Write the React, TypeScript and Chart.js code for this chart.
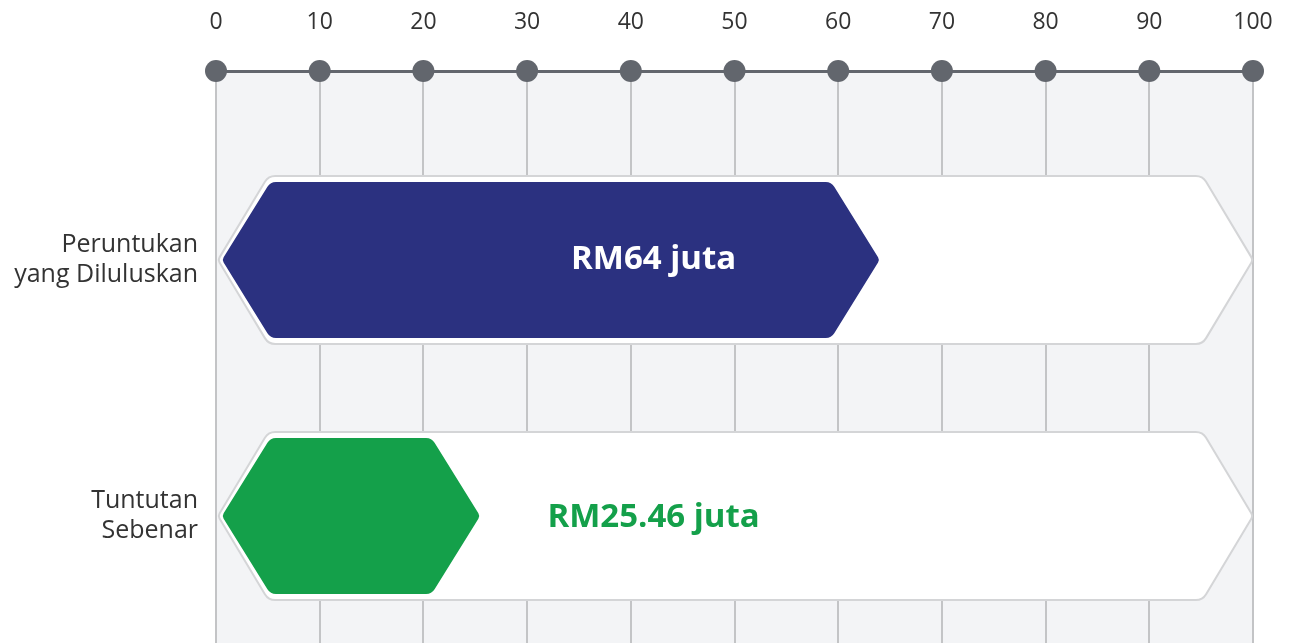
import React, { useEffect, useRef } from "react";
import { Chart, registerables } from "chart.js";

Chart.register(...registerables);

// ---- data ----
const CATEGORIES: string[][] = [
  ["Peruntukan", "yang Diluluskan"],
  ["Tuntutan", "Sebenar"],
];
const VALUES: number[] = [64, 25.46];
const VALUE_LABELS: string[] = ["RM64 juta", "RM25.46 juta"];
const TRACK_MAX: number[] = [100, 100];
const BAR_COLORS: string[] = ["#2b3180", "#14a04a"];
const X_TICKS: number[] = [0, 10, 20, 30, 40, 50, 60, 70, 80, 90, 100];

// ---- style constants ----
const FONT = "'Open Sans', 'DejaVu Sans', sans-serif";
const LABEL_AT = 42.2; // axis value where value labels are centred
const TEXT_COLOR = "#333333";

function hexPath(
  ctx: CanvasRenderingContext2D,
  x0: number,
  x1: number,
  yc: number,
  h: number,
  c: number,
  r: number,
  rp: number
) {
  const top = yc - h / 2;
  const bot = yc + h / 2;
  const pts: [number, number, number][] = [
    [x0, yc, rp],
    [x0 + c, top, r],
    [x1 - c, top, r],
    [x1, yc, rp],
    [x1 - c, bot, r],
    [x0 + c, bot, r],
  ];
  ctx.beginPath();
  const sx = (pts[5][0] + pts[0][0]) / 2;
  const sy = (pts[5][1] + pts[0][1]) / 2;
  ctx.moveTo(sx, sy);
  for (let i = 0; i < 6; i++) {
    const p = pts[i];
    const n = pts[(i + 1) % 6];
    ctx.arcTo(p[0], p[1], n[0], n[1], p[2]);
  }
  ctx.closePath();
}

const hexPlugin = {
  id: "hexBars",
  beforeDraw(chart: any) {
    const { ctx, chartArea } = chart;
    ctx.save();
    ctx.fillStyle = "#ffffff";
    ctx.fillRect(0, 0, chart.width, chart.height);
    ctx.fillStyle = "#f3f4f6";
    ctx.fillRect(
      chartArea.left,
      chartArea.top,
      chartArea.right - chartArea.left,
      chartArea.bottom - chartArea.top
    );
    ctx.restore();
  },
  afterDatasetsDraw(chart: any) {
    const { ctx } = chart;
    const trackMeta = chart.getDatasetMeta(0);
    const barMeta = chart.getDatasetMeta(1);
    const xScale = chart.scales.x;
    ctx.save();
    trackMeta.data.forEach((el: any) => {
      const p = el.getProps(["x", "y", "base", "height"], true);
      const x0 = Math.min(p.x, p.base) + 1;
      const x1 = Math.max(p.x, p.base);
      hexPath(ctx, x0, x1, p.y, p.height, p.height * 0.3, 12, 5);
      ctx.fillStyle = "#ffffff";
      ctx.fill();
      ctx.lineWidth = 2;
      ctx.strokeStyle = "#d4d5d7";
      ctx.stroke();
    });
    barMeta.data.forEach((el: any, i: number) => {
      const p = el.getProps(["x", "y", "base", "height"], true);
      const x0 = Math.min(p.x, p.base) + 5;
      const x1 = Math.max(p.x, p.base);
      hexPath(ctx, x0, x1, p.y, p.height, p.height * 0.31, 10, 5);
      ctx.fillStyle = BAR_COLORS[i];
      ctx.fill();
    });
    // value labels
    ctx.font = `bold 33px ${FONT}`;
    ctx.textAlign = "center";
    ctx.textBaseline = "middle";
    barMeta.data.forEach((el: any, i: number) => {
      const p = el.getProps(["y"], true);
      const inside = LABEL_AT < VALUES[i];
      ctx.fillStyle = inside ? "#ffffff" : BAR_COLORS[i];
      ctx.fillText(VALUE_LABELS[i], xScale.getPixelForValue(LABEL_AT), p.y + (inside ? 0 : 2));
    });
    ctx.restore();
  },
  afterDraw(chart: any) {
    const { ctx, chartArea } = chart;
    const xScale = chart.scales.x;
    ctx.save();
    ctx.fillStyle = "#62666d";
    X_TICKS.forEach((v) => {
      ctx.beginPath();
      ctx.arc(xScale.getPixelForValue(v), chartArea.top, 11, 0, Math.PI * 2);
      ctx.fill();
    });
    ctx.restore();
  },
};

export default function App() {
  const canvasRef = useRef<HTMLCanvasElement | null>(null);

  useEffect(() => {
    document.body.style.margin = "0";
    const canvas = canvasRef.current;
    if (!canvas) return;
    const chart = new Chart(canvas, {
      type: "bar",
      data: {
        datasets: [
          {
            label: "track",
            data: TRACK_MAX.map((v, i) => ({ x: v, y: i })),
            backgroundColor: "rgba(0,0,0,0)",
            borderWidth: 0,
            barThickness: 168,
            grouped: false,
          } as any,
          {
            label: "value",
            data: VALUES.map((v, i) => ({ x: v, y: i })),
            backgroundColor: "rgba(0,0,0,0)",
            borderWidth: 0,
            barThickness: 156,
            grouped: false,
          } as any,
        ],
      },
      options: {
        indexAxis: "y",
        animation: false,
        responsive: true,
        maintainAspectRatio: false,
        layout: { padding: { top: 8, right: 40, bottom: 0, left: 0 } },
        plugins: {
          legend: { display: false },
          tooltip: { enabled: false },
        },
        scales: {
          x: {
            type: "linear",
            position: "top",
            min: 0,
            max: 100,
            offset: false,
            afterBuildTicks: (scale: any) => {
              scale.ticks = X_TICKS.map((v) => ({ value: v }));
            },
            afterFit: (scale: any) => {
              scale.height = 63;
              scale.paddingLeft = 0;
              scale.paddingRight = 0;
            },
            ticks: {
              color: TEXT_COLOR,
              font: { family: FONT, size: 23 },
              padding: 35,
            },
            grid: {
              color: "#c3c4c6",
              lineWidth: 2,
              drawTicks: false,
              offset: false,
            },
            border: { display: true, color: "#62666d", width: 3 },
          },
          y: {
            type: "linear",
            reverse: true,
            offset: false,
            min: -0.738,
            max: 1.496,
            afterBuildTicks: (scale: any) => {
              scale.ticks = CATEGORIES.map((_, i) => ({ value: i }));
            },
            afterFit: (scale: any) => {
              scale.width = 216;
              scale.paddingTop = 0;
              scale.paddingBottom = 0;
            },
            ticks: {
              color: TEXT_COLOR,
              font: { family: FONT, size: 25, lineHeight: 1.2 },
              padding: 18,
              callback: (v: any) => CATEGORIES[v as number] ?? "",
            },
            grid: { display: false, drawTicks: false, offset: false },
            border: { display: false },
          },
        },
      } as any,
      plugins: [hexPlugin],
    });
    return () => chart.destroy();
  }, []);

  return (
    <div style={{ width: 1293, height: 643, position: "relative" }}>
      <canvas ref={canvasRef} style={{ display: "block" }} />
    </div>
  );
}
